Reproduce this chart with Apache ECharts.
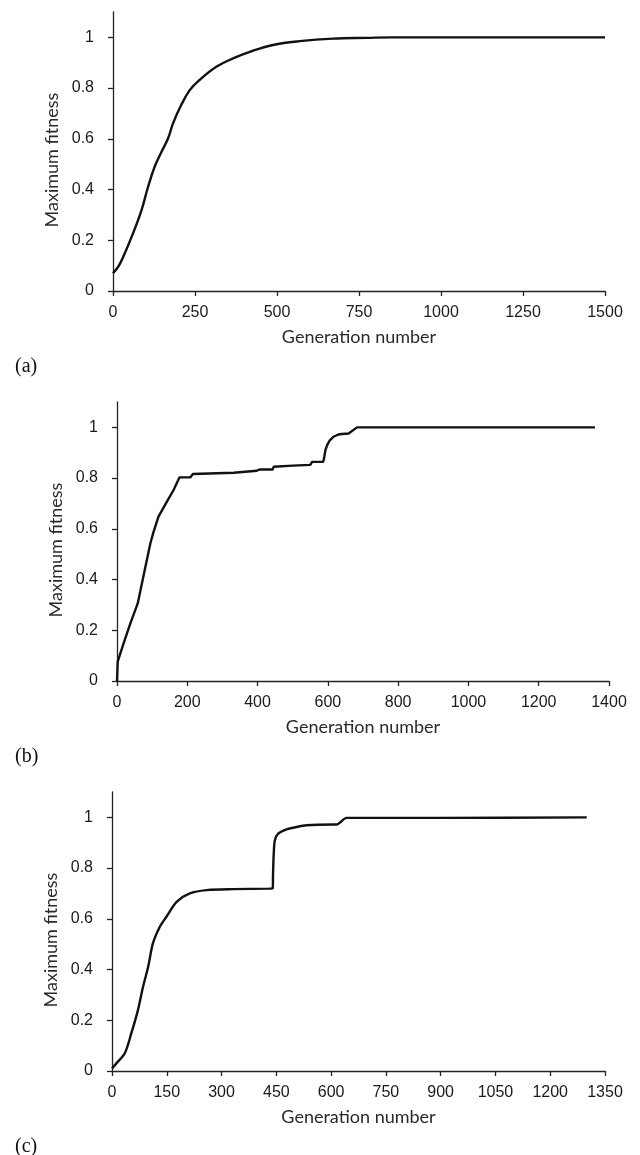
<!DOCTYPE html>
<html>
<head>
<meta charset="utf-8">
<script src="https://cdn.jsdelivr.net/npm/echarts@6/dist/echarts.min.js"></script>
<style>
html,body{margin:0;padding:0;background:#fff;}
#main{width:640px;height:1155px;}
</style>
</head>
<body>
<div id="main"></div>
<script>
// ---- data ----
var genA = [0, 18, 36, 61, 87, 107, 127, 148, 168, 183, 208, 234, 264, 315, 366, 417, 488, 569, 671, 773, 850, 1000, 1250, 1500];
var fitA = [0.07, 0.1, 0.149, 0.227, 0.319, 0.411, 0.49, 0.549, 0.602, 0.661, 0.733, 0.792, 0.832, 0.884, 0.917, 0.943, 0.97, 0.985, 0.995, 0.998, 1.0, 1.0, 1.0, 1.0];

var genB = [0, 2, 19, 38, 59, 71, 83, 95, 104, 118, 142, 161, 178, 209, 216, 332, 398, 405, 443, 446, 500, 550, 555, 587, 590, 593, 598, 605, 616, 630, 640, 659, 683, 1000, 1360];
var fitB = [0, 0.076, 0.149, 0.227, 0.306, 0.385, 0.464, 0.543, 0.588, 0.648, 0.707, 0.753, 0.803, 0.803, 0.816, 0.821, 0.829, 0.834, 0.834, 0.845, 0.849, 0.852, 0.864, 0.864, 0.885, 0.91, 0.93, 0.948, 0.963, 0.972, 0.974, 0.976, 1.0, 1.0, 1.0];

var genC = [0, 12, 35, 53, 71, 85, 99, 112, 131, 149, 177, 213, 259, 332, 430, 440, 441, 443, 446, 455, 478, 496, 533, 606, 615, 643, 900, 1300];
var fitC = [0.01, 0.03, 0.07, 0.149, 0.24, 0.332, 0.411, 0.503, 0.569, 0.608, 0.667, 0.7, 0.713, 0.717, 0.719, 0.72, 0.78, 0.86, 0.91, 0.936, 0.953, 0.959, 0.969, 0.972, 0.972, 0.998, 0.998, 1.0];

var yTicks = [0, 0.2, 0.4, 0.6, 0.8, 1];
var xTicksA = [0, 250, 500, 750, 1000, 1250, 1500];
var xTicksB = [0, 200, 400, 600, 800, 1000, 1200, 1400];
var xTicksC = [0, 150, 300, 450, 600, 750, 900, 1050, 1200, 1350];
var panelLabels = ['(a)', '(b)', '(c)'];
var xTitle = 'Generation number';
var yTitle = 'Maximum fitness';

function pairs(xs, ys) { return xs.map(function (x, i) { return [x, ys[i]]; }); }

var tickFont = "'Liberation Sans', Arial, sans-serif";
var titleFont = "Lato, 'Open Sans', sans-serif";
var axisColor = '#222';

var grids = [
  {left: 113, right: 35, top: 12, height: 279},
  {left: 117, right: 31, top: 402, height: 279},
  {left: 112, right: 35, top: 792, height: 279}
];
var xSpecs = [
  {max: 1500, interval: 250, ticks: xTicksA},
  {max: 1400, interval: 200, ticks: xTicksB},
  {max: 1350, interval: 150, ticks: xTicksC}
];
var datasets = [pairs(genA, fitA), pairs(genB, fitB), pairs(genC, fitC)];
var smoothing = [0.4, false, 0.3];

var xAxes = [], yAxes = [], series = [], graphics = [];
for (var i = 0; i < 3; i++) {
  xAxes.push({
    type: 'value', gridIndex: i, min: 0, max: xSpecs[i].max, interval: xSpecs[i].interval,
    name: xTitle, nameLocation: 'middle', nameGap: 37,
    nameTextStyle: {fontFamily: titleFont, fontSize: 18, color: '#2a2a2a'},
    axisLine: {show: true, onZero: false, lineStyle: {color: axisColor, width: 1.3}},
    axisTick: {show: true, length: 5, customValues: xSpecs[i].ticks, lineStyle: {color: axisColor, width: 1.3}},
    axisLabel: {fontFamily: tickFont, fontSize: 16, color: '#1a1a1a', margin: 14, customValues: xSpecs[i].ticks,
      formatter: function (v) { return String(v); }},
    splitLine: {show: false}
  });
  yAxes.push({
    type: 'value', gridIndex: i, min: 0, max: 1.1,
    name: yTitle, nameLocation: 'middle', nameGap: 47,
    nameTextStyle: {fontFamily: titleFont, fontSize: 18, color: '#2a2a2a', padding: [0, 17, 0, 0]},
    axisLine: {show: true, onZero: false, lineStyle: {color: axisColor, width: 1.3}},
    axisTick: {show: true, length: 5, customValues: yTicks, lineStyle: {color: axisColor, width: 1.3}},
    axisLabel: {fontFamily: tickFont, fontSize: 16, color: '#1a1a1a', margin: 19, customValues: yTicks,
      formatter: function (v) { return String(Math.round(v * 10) / 10); }},
    splitLine: {show: false}
  });
  series.push({
    type: 'line', xAxisIndex: i, yAxisIndex: i, data: datasets[i],
    showSymbol: false, smooth: smoothing[i],
    lineStyle: {color: '#111', width: 2.4}
  });
  graphics.push({
    type: 'text', left: 15, top: 357 + i * 390,
    style: {text: panelLabels[i], font: "20px 'Liberation Serif', 'Times New Roman', serif", fill: '#111'}
  });
}

var chart = echarts.init(document.getElementById('main'), null, {renderer: 'canvas'});
chart.setOption({
  animation: false,
  backgroundColor: '#fff',
  grid: grids,
  xAxis: xAxes,
  yAxis: yAxes,
  series: series,
  graphic: graphics
});
</script>
</body>
</html>
